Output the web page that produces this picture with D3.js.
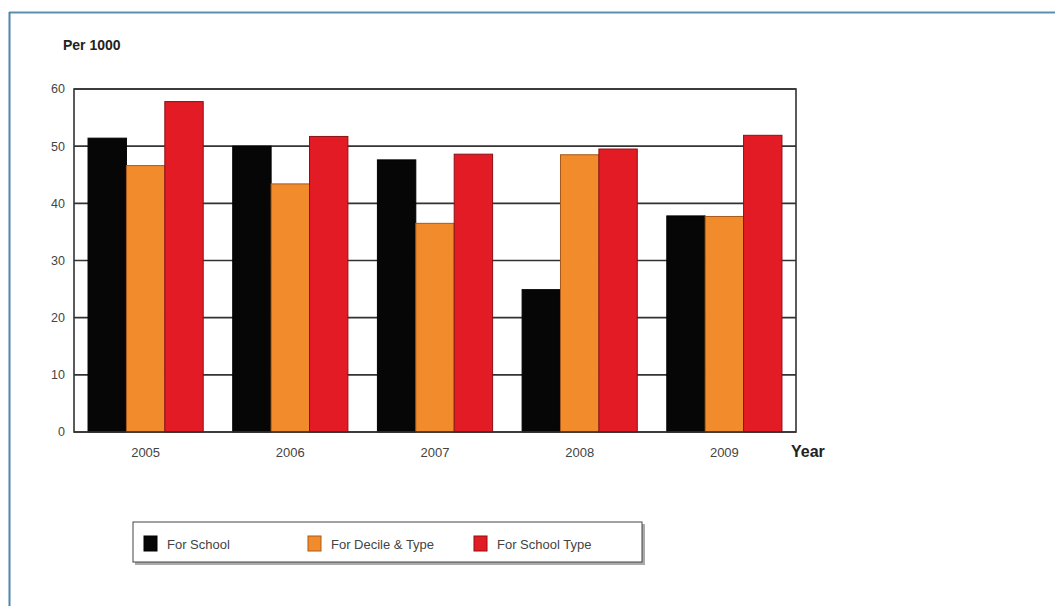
<!DOCTYPE html>
<html>
<head>
<meta charset="utf-8">
<script src="https://cdn.jsdelivr.net/npm/d3@7"></script>
<style>
  body { margin: 0; background: #fff; }
  svg { display: block; font-family: Arial, "Liberation Sans", sans-serif; }
</style>
</head>
<body>
<div id="chart"></div>
<script>
const width = 1055;
const height = 606;

// data
const years = ["2005", "2006", "2007", "2008", "2009"];
const seriesNames = ["For School", "For Decile & Type", "For School Type"];
const forSchool = [51.4, 50.0, 47.6, 24.9, 37.8];
const forDecileType = [46.6, 43.4, 36.5, 48.5, 37.7];
const forSchoolType = [57.8, 51.7, 48.6, 49.5, 51.9];
const yTicks = [0, 10, 20, 30, 40, 50, 60];
const colors = ["#060606", "#f28b2c", "#e31b24"];
const strokes = ["#000", "#a85a1a", "#8c1015"];

const series = [forSchool, forDecileType, forSchoolType];

const margin = { left: 74, right: 259, top: 89, bottom: 174 };

const svg = d3.select("#chart").append("svg")
    .attr("width", width)
    .attr("height", height);

// page frame (blue rule top & left)
svg.append("line").attr("x1", 9).attr("x2", width).attr("y1", 12.5).attr("y2", 12.5)
    .attr("stroke", "#5b8fb0").attr("stroke-width", 2);
svg.append("line").attr("x1", 9.5).attr("x2", 9.5).attr("y1", 12).attr("y2", height)
    .attr("stroke", "#4f86ad").attr("stroke-width", 2);

const x = d3.scaleBand()
    .domain(years)
    .range([margin.left, width - margin.right])
    .paddingInner(0.204)
    .paddingOuter(0.097);

const xSub = d3.scaleBand()
    .domain(d3.range(series.length))
    .range([0, x.bandwidth()]);

const y = d3.scaleLinear()
    .domain([0, 60])
    .range([height - margin.bottom, margin.top]);

// gridlines
svg.append("g")
    .selectAll("line")
    .data(yTicks)
    .join("line")
    .attr("x1", margin.left)
    .attr("x2", width - margin.right)
    .attr("y1", d => y(d))
    .attr("y2", d => y(d))
    .attr("stroke", "#333")
    .attr("stroke-width", 1.6);

// bars
const groups = svg.append("g")
    .selectAll("g")
    .data(years)
    .join("g")
    .attr("transform", d => `translate(${x(d)},0)`);

groups.selectAll("rect")
    .data((d, i) => series.map((s, k) => ({ k, v: s[i] })))
    .join("rect")
    .attr("x", d => xSub(d.k))
    .attr("width", xSub.bandwidth())
    .attr("y", d => y(d.v))
    .attr("height", d => y(0) - y(d.v))
    .attr("fill", d => colors[d.k])
    .attr("stroke", d => strokes[d.k])
    .attr("stroke-width", 1);

// plot frame
svg.append("rect")
    .attr("x", margin.left)
    .attr("y", margin.top)
    .attr("width", width - margin.left - margin.right)
    .attr("height", y(0) - margin.top)
    .attr("fill", "none")
    .attr("stroke", "#333")
    .attr("stroke-width", 1.6);

// y axis labels
svg.append("g")
    .selectAll("text")
    .data(yTicks)
    .join("text")
    .attr("x", margin.left - 9)
    .attr("y", d => y(d))
    .attr("dy", "0.35em")
    .attr("text-anchor", "end")
    .attr("font-size", 12.5)
    .attr("fill", "#444")
    .text(d => d);

// x axis labels
svg.append("g")
    .selectAll("text")
    .data(years)
    .join("text")
    .attr("x", d => x(d) + x.bandwidth() / 2)
    .attr("y", y(0) + 20)
    .attr("dy", "0.35em")
    .attr("text-anchor", "middle")
    .attr("font-size", 13)
    .attr("fill", "#444")
    .text(d => d);

svg.append("text")
    .attr("x", 791)
    .attr("y", y(0) + 19)
    .attr("dy", "0.35em")
    .attr("font-size", 16)
    .attr("font-weight", "bold")
    .attr("fill", "#222")
    .text("Year");

svg.append("text")
    .attr("x", 63)
    .attr("y", 50)
    .attr("font-size", 14)
    .attr("font-weight", "bold")
    .attr("fill", "#222")
    .text("Per 1000");

// legend
const legend = svg.append("g");
legend.append("rect")
    .attr("x", 135).attr("y", 524)
    .attr("width", 510).attr("height", 41)
    .attr("fill", "#aaa");
legend.append("rect")
    .attr("x", 133).attr("y", 522)
    .attr("width", 509).attr("height", 40)
    .attr("fill", "#fff")
    .attr("stroke", "#444")
    .attr("stroke-width", 1);

const legendX = [144, 308, 474];
const items = legend.selectAll("g.item")
    .data(seriesNames)
    .join("g")
    .attr("class", "item")
    .attr("transform", (d, i) => `translate(${legendX[i]},536)`);

items.append("rect")
    .attr("width", 13).attr("height", 15)
    .attr("fill", (d, i) => colors[i])
    .attr("stroke", (d, i) => strokes[i]);

items.append("text")
    .attr("x", 23)
    .attr("y", 8)
    .attr("dy", "0.35em")
    .attr("font-size", 13)
    .attr("fill", "#444")
    .text(d => d);
</script>
</body>
</html>
